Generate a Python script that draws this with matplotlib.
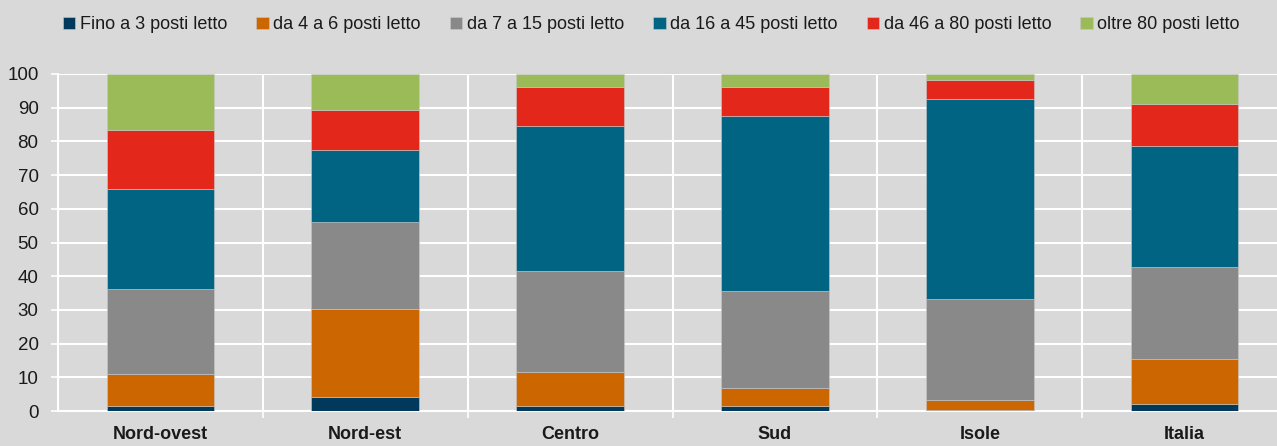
import matplotlib
matplotlib.use("Agg")
import matplotlib.pyplot as plt
import numpy as np

plt.rcParams['font.family'] = ['Liberation Sans Narrow', 'Liberation Sans', 'DejaVu Sans']

regioni = ["Nord-ovest", "Nord-est", "Centro", "Sud", "Isole", "Italia"]
classi = ["Fino a 3 posti letto", "da 4 a 6 posti letto", "da 7 a 15 posti letto",
          "da 16 a 45 posti letto", "da 46 a 80 posti letto", "oltre 80 posti letto"]
colori = ["#00395B", "#CC6600", "#898989", "#006482", "#E3281B", "#9BBB59"]

fino3 = [1.6, 4.2, 1.6, 1.5, 0.3, 2.2]
da4a6 = [9.4, 26.2, 10.1, 5.4, 3.1, 13.2]
da7a15 = [25.1, 25.8, 29.9, 28.6, 29.7, 27.3]
da16a45 = [29.7, 21.2, 43.0, 51.9, 59.4, 36.0]
da46a80 = [17.6, 12.0, 11.6, 8.8, 5.7, 12.3]
oltre80 = [16.6, 10.6, 3.8, 3.8, 1.8, 9.0]

serie = [fino3, da4a6, da7a15, da16a45, da46a80, oltre80]

bg = "#D9D9D9"
fig = plt.figure(figsize=(12.77, 4.46), dpi=100, facecolor=bg)
ax = fig.add_axes([58/1277, 35/446, 1229/1277, 337/446])
ax.set_facecolor(bg)

x = np.arange(len(regioni))
base = np.zeros(len(regioni))
for nome, vals, col in zip(classi, serie, colori):
    ax.bar(x, vals, bottom=base, width=0.525, color=col, label=nome,
           edgecolor="#c8c8c8", linewidth=0.4, zorder=3)
    base += np.array(vals)

ax.set_xlim(-0.5, len(regioni) - 0.5)
ax.set_ylim(0, 100)
ax.set_yticks(range(0, 101, 10))
ax.set_xticks(x)
ax.set_xticklabels(regioni, fontsize=13, fontweight="bold", color="#1a1a1a")
ax.set_xticks(np.arange(0.5, len(regioni) - 0.5, 1), minor=True)

ax.tick_params(axis="x", which="major", length=0, pad=11)
ax.tick_params(axis="x", which="minor", length=5, width=1.2, color="white", direction="out")
ax.tick_params(axis="y", length=5, width=1.2, color="white", pad=9, labelsize=13.5,
               labelcolor="#1a1a1a")

ax.grid(axis="y", color="white", linewidth=1.5, zorder=0)
ax.grid(axis="x", which="minor", color="white", linewidth=1.5, zorder=0)
for s in ["top", "right"]:
    ax.spines[s].set_visible(False)
ax.spines["left"].set_color("white")
ax.spines["left"].set_linewidth(1.5)
ax.spines["bottom"].set_color("white")
ax.spines["bottom"].set_linewidth(1.5)

leg = fig.legend(loc="upper center", bbox_to_anchor=(0.51, 1.0), ncol=6, frameon=False,
                 fontsize=13, handlelength=0.7, handleheight=0.7, handletextpad=0.25,
                 columnspacing=1.6)
for t in leg.get_texts():
    t.set_color("#1a1a1a")

fig.savefig("out.png", dpi=100, facecolor=bg)
